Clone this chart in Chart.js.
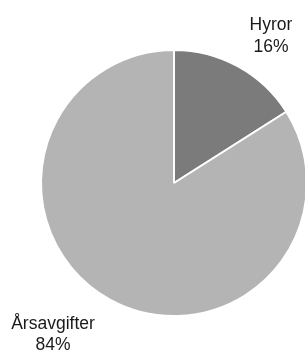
<!DOCTYPE html>
<html>
<head>
<meta charset="utf-8">
<script src="https://cdn.jsdelivr.net/npm/chart.js@4/dist/chart.umd.min.js"></script>
<style>
    html, body { margin: 0; padding: 0; background: #fff; overflow: hidden; }
    #wrap { position: relative; width: 305px; height: 352px; overflow: hidden; }
    #pie { position: absolute; left: 0; top: 0; }
</style>
</head>
<body>
<div id="wrap"><canvas id="pie" width="348" height="352"></canvas></div>
<script>
// data
const labels = ['Hyror', 'Årsavgifter'];
const values = [16, 84];
const colors = ['#7b7b7b', '#b4b4b4'];

// label text spots (x, baseline of first line)
const labelSpots = [
    { x: 271, y: 30, gap: 22 },
    { x: 53, y: 329, gap: 21 }
];

const sliceLabels = {
    id: 'sliceLabels',
    afterDraw(chart) {
        const ctx = chart.ctx;
        ctx.save();
        ctx.fillStyle = '#1a1a1a';
        ctx.font = '17.5px "Liberation Sans", Arial, sans-serif';
        ctx.textAlign = 'center';
        ctx.textBaseline = 'alphabetic';
        labels.forEach((name, i) => {
            const s = labelSpots[i];
            ctx.fillText(name, s.x, s.y);
            ctx.fillText(values[i] + '%', s.x, s.y + s.gap);
        });
        ctx.restore();
    }
};

new Chart(document.getElementById('pie').getContext('2d'), {
    type: 'pie',
    data: {
        labels: labels,
        datasets: [{
            data: values,
            backgroundColor: colors,
            borderColor: '#fff',
            borderWidth: 2
        }]
    },
    options: {
        responsive: false,
        animation: false,
        layout: { padding: { left: 40, right: 40, top: 49, bottom: 35 } },
        plugins: {
            legend: { display: false },
            tooltip: { enabled: false }
        }
    },
    plugins: [sliceLabels]
});
</script>
</body>
</html>
